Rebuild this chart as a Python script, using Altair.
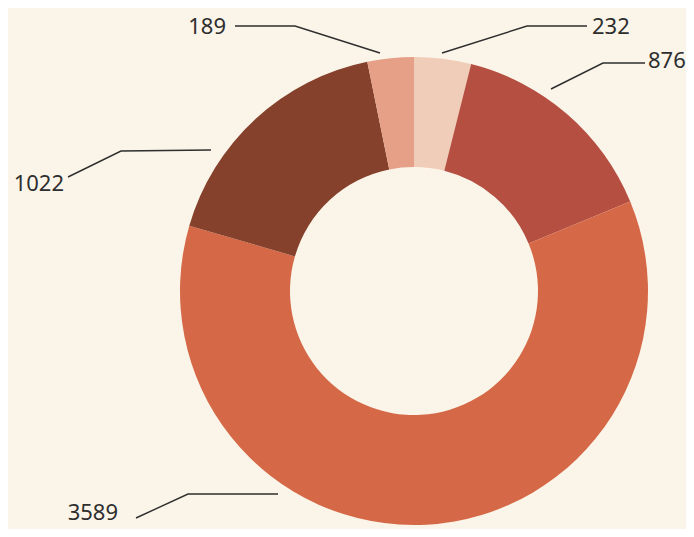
import altair as alt
import pandas as pd

# ---- data ----
categories = ["A", "B", "C", "D", "E"]
values = [232, 876, 3589, 1022, 189]
colors = ["#F0CDB8", "#B44F42", "#D56947", "#85412C", "#E6A088"]

# ---- layout (plot coordinates) ----
CX, CY = 406, 283
R_OUT, R_IN = 234, 124

# leader lines: three points each (annotation layout)
leaders = {
    "A": [(434, 45), (519, 18), (579, 18)],
    "B": [(543, 81), (595, 55), (637, 55)],
    "C": [(128, 510), (180, 486), (270, 486)],
    "D": [(60, 169), (113, 143), (203, 142)],
    "E": [(227, 18), (287, 18), (372, 45)],
}
label_pos = {
    "A": (584, 19, "left"),
    "B": (640, 53, "left"),
    "C": (110, 505, "right"),
    "D": (56, 176, "right"),
    "E": (218, 19, "right"),
}

df = pd.DataFrame({"cat": categories, "value": values, "idx": range(len(values))})

line_rows = []
for c, pts in leaders.items():
    for i, (x, y) in enumerate(pts):
        line_rows.append({"cat": c, "seq": i, "px": x, "py": y})
lines_df = pd.DataFrame(line_rows)

lab_rows = []
for c, v in zip(categories, values):
    x, y, a = label_pos[c]
    lab_rows.append({"cat": c, "label": str(v), "px": x, "py": y, "align": a})
lab_df = pd.DataFrame(lab_rows)

arcs = alt.Chart(df).mark_arc(innerRadius=R_IN, outerRadius=R_OUT).encode(
    theta=alt.Theta("value:Q", stack=True),
    color=alt.Color("cat:N", scale=alt.Scale(domain=categories, range=colors), legend=None),
    order=alt.Order("idx:Q"),
    x=alt.value(CX),
    y=alt.value(CY),
)

hole = alt.Chart(pd.DataFrame({"v": [1]})).mark_arc(
    innerRadius=0, outerRadius=R_IN, color="#FCF4EE"
).encode(theta=alt.Theta("v:Q"), x=alt.value(CX), y=alt.value(CY))

lines = alt.Chart(lines_df).mark_line(color="#2E2E2E", strokeWidth=1.4).encode(
    x=alt.X("px:Q", scale=None, axis=None),
    y=alt.Y("py:Q", scale=None, axis=None),
    detail="cat:N",
    order="seq:Q",
)

font = "Noto Sans"
txt_left = alt.Chart(lab_df[lab_df["align"] == "left"]).mark_text(
    align="left", baseline="middle", font=font, fontSize=22, color="#2E2E2E"
).encode(x=alt.X("px:Q", scale=None, axis=None), y=alt.Y("py:Q", scale=None, axis=None), text="label:N")

txt_right = alt.Chart(lab_df[lab_df["align"] == "right"]).mark_text(
    align="right", baseline="middle", font=font, fontSize=22, color="#2E2E2E"
).encode(x=alt.X("px:Q", scale=None, axis=None), y=alt.Y("py:Q", scale=None, axis=None), text="label:N")

chart = alt.layer(arcs, hole, lines, txt_left, txt_right).properties(
    width=678, height=521, padding=0, autosize=alt.AutoSizeParams(type="none"),
    background="#FBF5E9",
).configure_view(stroke=None)

chart.save("out.html", embed_options={"renderer": "svg", "actions": False})
